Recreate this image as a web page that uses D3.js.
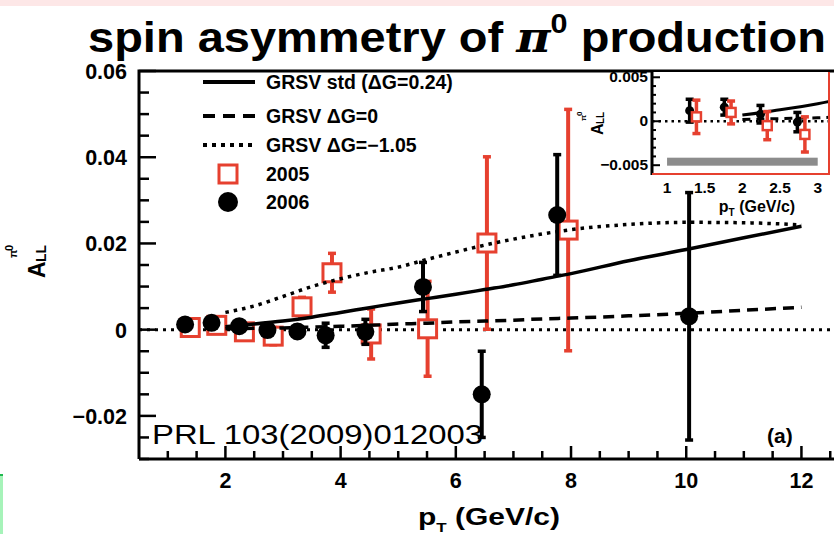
<!DOCTYPE html>
<html>
<head>
<meta charset="utf-8">
<script src="https://cdn.jsdelivr.net/npm/d3@7"></script>
<style>
  html, body { margin: 0; padding: 0; background: #fff; }
  svg { display: block; }
  text { font-family: "Liberation Sans", Arial, sans-serif; }
</style>
</head>
<body>
<svg id="chart" width="834" height="534"></svg>
<script>
// ---- data ----
// 2006 run (filled circles)
const pt2006 = [1.30, 1.76, 2.24, 2.73, 3.25, 3.74, 4.43, 5.43, 6.45, 7.76, 10.05];
const all2006 = [0.0012, 0.0016, 0.0008, -0.0001, -0.0004, -0.0013, -0.0005, 0.0099, -0.0150, 0.0266, 0.0031];
const err2006 = [0.0013, 0.0009, 0.0010, 0.0011, 0.0014, 0.0028, 0.0029, 0.0057, 0.0100, 0.0140, 0.0287];
// 2005 run (open squares)
const pt2005 = [1.39, 1.85, 2.33, 2.83, 3.33, 3.85, 4.53, 5.51, 6.54, 7.95];
const all2005 = [0.0005, 0.0010, -0.0005, -0.0015, 0.0053, 0.0132, -0.0010, 0.0002, 0.0201, 0.0231];
const err2005 = [0.0019, 0.0013, 0.0016, 0.0020, 0.0022, 0.0045, 0.0058, 0.0110, 0.0200, 0.0280];
// GRSV predictions
const ptTheory = [2.0, 2.5, 3, 3.5, 4, 4.5, 5, 5.5, 6, 6.5, 7, 7.5, 8, 9, 10, 11, 12];
const grsvStd  = [0.0007, 0.0013, 0.0020, 0.0029, 0.0040, 0.0051, 0.0062, 0.0072, 0.0082, 0.0093, 0.0104, 0.0117, 0.0130, 0.0160, 0.0186, 0.0213, 0.0240];
const grsvZero = [0.0002, 0.0003, 0.0004, 0.0006, 0.0008, 0.0010, 0.0013, 0.0015, 0.0018, 0.0020, 0.0022, 0.0025, 0.0027, 0.0032, 0.0038, 0.0045, 0.0052];
const grsvNeg  = [0.0040, 0.0055, 0.0077, 0.0100, 0.0118, 0.0133, 0.0145, 0.0163, 0.0180, 0.0196, 0.0210, 0.0222, 0.0232, 0.0244, 0.0249, 0.0248, 0.0243];
// axis ticks
const xTickLabels = [2, 4, 6, 8, 10, 12];
const yTickLabels = [-0.02, 0, 0.02, 0.04, 0.06];
const insetXTicks = [1, 1.5, 2, 2.5, 3];
const insetYTicks = [-0.005, 0, 0.005];
const legendItems = ["GRSV std (\u0394G=0.24)", "GRSV \u0394G=0", "GRSV \u0394G=\u22121.05", "2005", "2006"];
const insetMaxPt = 3;
// scale uncertainty band shown in the inset
const bandRange = [1, 3];
const bandValue = -0.0046;

const RED = "#e6402f";
const svg = d3.select("#chart");

// slide decoration
svg.append("rect").attr("x", 0).attr("y", 0).attr("width", 834).attr("height", 6).attr("fill", "#fde7e7");
svg.append("rect").attr("x", 0).attr("y", 474).attr("width", 3).attr("height", 60).attr("fill", "#a6f3b9");
svg.append("rect").attr("x", 0).attr("y", 474).attr("width", 3).attr("height", 2).attr("fill", "#1fb84f");

// ---- main panel ----
const x = d3.scaleLinear().domain([0.5, 12.6]).range([139, 836]);
const y = d3.scaleLinear().domain([-0.03, 0.06]).range([459, 71]);
const main = svg.append("g");

// ticks (pointing inward)
const yMinor = d3.range(-0.03, 0.0601, 0.005).map(v => +v.toFixed(3));
main.selectAll("line.ytick").data(yMinor).join("line")
  .attr("x1", x(0.5)).attr("x2", d => x(0.5) + (Math.abs(d / 0.02 - Math.round(d / 0.02)) < 1e-6 ? 17 : 10))
  .attr("y1", d => y(d)).attr("y2", d => y(d))
  .attr("stroke", "#000").attr("stroke-width", 2.5);
const xMinor = d3.range(1, 12.51, 0.5);
main.selectAll("line.xtick").data(xMinor).join("line")
  .attr("x1", d => x(d)).attr("x2", d => x(d))
  .attr("y1", y(-0.03)).attr("y2", d => y(-0.03) - (d % 2 === 0 ? 13 : 8))
  .attr("stroke", "#000").attr("stroke-width", 2.5);

main.selectAll("text.ylab").data(yTickLabels).join("text")
  .attr("x", 127).attr("y", d => y(d) + 8)
  .attr("text-anchor", "end").attr("font-size", 21.5).attr("font-weight", "bold")
  .text(d => d === 0 ? "0" : d3.format(".2f")(d).replace("-", "\u2212"));
main.selectAll("text.xlab").data(xTickLabels).join("text")
  .attr("x", d => x(d)).attr("y", 488)
  .attr("text-anchor", "middle").attr("font-size", 21.5).attr("font-weight", "bold")
  .text(d => d);

// x axis title
const xt = main.append("text").attr("x", 418).attr("y", 525)
  .attr("font-size", 23).attr("font-weight", "bold")
  .attr("textLength", 142).attr("lengthAdjust", "spacingAndGlyphs");
xt.append("tspan").text("p");
xt.append("tspan").attr("font-size", 13).attr("dy", 7).text("T");
xt.append("tspan").attr("dy", -7).text(" (GeV/c)");

// y axis title
const yt = main.append("g").attr("transform", "translate(45,278) rotate(-90)");
yt.append("text").attr("x", 0).attr("y", 0).attr("font-size", 23).attr("font-weight", "bold").text("A");
yt.append("text").attr("x", 16).attr("y", 1).attr("font-size", 14).attr("font-weight", "bold").text("LL");
yt.append("text").attr("x", 20).attr("y", -28).attr("font-size", 11).attr("font-weight", "bold").text("\u03c0");
yt.append("text").attr("x", 27).attr("y", -32).attr("font-size", 11).attr("font-weight", "bold").text("0");

// zero line
main.append("line").attr("x1", x(0.5)).attr("x2", 836).attr("y1", y(0)).attr("y2", y(0))
  .attr("stroke", "#000").attr("stroke-width", 3).attr("stroke-dasharray", "3,5");

// error bars helper
function errorBars(g, pts, vals, errs, sx, sy, color, w, cap) {
  const d = pts.map((p, i) => ({ p, v: vals[i], e: errs[i] }));
  g.selectAll(null).data(d).join("line")
    .attr("x1", q => sx(q.p)).attr("x2", q => sx(q.p))
    .attr("y1", q => sy(q.v - q.e)).attr("y2", q => sy(q.v + q.e))
    .attr("stroke", color).attr("stroke-width", w);
  ["lo", "hi"].forEach(k => {
    g.selectAll(null).data(d).join("line")
      .attr("x1", q => sx(q.p) - cap).attr("x2", q => sx(q.p) + cap)
      .attr("y1", q => sy(k === "lo" ? q.v - q.e : q.v + q.e))
      .attr("y2", q => sy(k === "lo" ? q.v - q.e : q.v + q.e))
      .attr("stroke", color).attr("stroke-width", 3.5);
  });
}

const pts = main.append("g");
errorBars(pts, pt2005, all2005, err2005, x, y, RED, 4, 4);
pts.selectAll("rect.s2005").data(pt2005).join("rect")
  .attr("x", (d) => x(d) - 9).attr("y", (d, i) => y(all2005[i]) - 9)
  .attr("width", 18).attr("height", 18)
  .attr("fill", "#fff").attr("stroke", RED).attr("stroke-width", 3);
errorBars(pts, pt2006, all2006, err2006, x, y, "#000", 4, 4);
pts.selectAll("circle.s2006").data(pt2006).join("circle")
  .attr("cx", d => x(d)).attr("cy", (d, i) => y(all2006[i])).attr("r", 9)
  .attr("fill", "#000");

// theory curves
const theory = [
  { vals: grsvStd, dash: null },
  { vals: grsvZero, dash: "11,7" },
  { vals: grsvNeg, dash: "3.5,5" }
];
const curve = (sx, sy) => d3.line().x(d => sx(d[0])).y(d => sy(d[1])).curve(d3.curveMonotoneX);
theory.forEach(t => {
  main.append("path")
    .attr("d", curve(x, y)(ptTheory.map((p, i) => [p, t.vals[i]])))
    .attr("fill", "none").attr("stroke", "#000").attr("stroke-width", 3.5)
    .attr("stroke-dasharray", t.dash);
});

// frame
main.append("path").attr("d", `M${x(0.5)},${y(-0.03)}V${y(0.06)}H836`)
  .attr("fill", "none").attr("stroke", "#000").attr("stroke-width", 3);
main.append("line").attr("x1", x(0.5)).attr("x2", 836).attr("y1", y(-0.03)).attr("y2", y(-0.03))
  .attr("stroke", "#000").attr("stroke-width", 3);

// legend
const lg = main.append("g");
const rowsY = [82, 116, 145, 174, 202];
const sampleDash = [null, "12,8", "4,5"];
sampleDash.forEach((dash, i) => {
  lg.append("line").attr("x1", 203).attr("x2", 255).attr("y1", rowsY[i]).attr("y2", rowsY[i])
    .attr("stroke", "#000").attr("stroke-width", 4).attr("stroke-dasharray", dash);
});
lg.append("rect").attr("x", 219).attr("y", rowsY[3] - 9).attr("width", 18).attr("height", 18)
  .attr("fill", "#fff").attr("stroke", RED).attr("stroke-width", 3);
lg.append("circle").attr("cx", 228).attr("cy", rowsY[4]).attr("r", 10).attr("fill", "#000");
lg.selectAll("text").data(legendItems).join("text")
  .attr("x", 266).attr("y", (d, i) => rowsY[i] + 7)
  .attr("font-size", 19.5).attr("font-weight", "bold").text(d => d);

// labels in the plot
main.append("text").attr("x", 152).attr("y", 444)
  .attr("font-family", "'Open Sans', 'Noto Sans', sans-serif").attr("font-size", 28)
  .attr("textLength", 331).attr("lengthAdjust", "spacingAndGlyphs")
  .text("PRL 103(2009)012003");
main.append("text").attr("x", 767).attr("y", 443).attr("font-size", 21).attr("font-weight", "bold").text("(a)");

// ---- inset: low pT ----
const xi = d3.scaleLinear().domain([0.8, 3.15]).range([652, 829]);
const yi = d3.scaleLinear().domain([-0.006, 0.0056]).range([174, 72]);
const ins = svg.append("g");
ins.append("rect").attr("x", 652).attr("y", 72).attr("width", 177).attr("height", 102).attr("fill", "#fff");

ins.append("rect").attr("x", xi(bandRange[0])).attr("y", yi(bandValue) - 4)
  .attr("width", xi(bandRange[1]) - xi(bandRange[0])).attr("height", 8).attr("fill", "#8c8c8c");

ins.append("line").attr("x1", 652).attr("x2", 829).attr("y1", yi(0)).attr("y2", yi(0))
  .attr("stroke", "#000").attr("stroke-width", 2.5).attr("stroke-dasharray", "2.5,4");

const clipId = "insetClip";
svg.append("clipPath").attr("id", clipId).append("rect")
  .attr("x", 652).attr("y", 72).attr("width", 177).attr("height", 102);
[{ vals: grsvStd, dash: null }, { vals: grsvZero, dash: "8,6" }].forEach(t => {
  ins.append("path").attr("clip-path", `url(#${clipId})`)
    .attr("d", curve(xi, yi)(ptTheory.map((p, i) => [p, t.vals[i]])))
    .attr("fill", "none").attr("stroke", "#000").attr("stroke-width", 3)
    .attr("stroke-dasharray", t.dash);
});

const lowIdx5 = pt2005.map((p, i) => i).filter(i => pt2005[i] < insetMaxPt);
const lowIdx6 = pt2006.map((p, i) => i).filter(i => pt2006[i] < insetMaxPt);
const ip = ins.append("g");
errorBars(ip, lowIdx6.map(i => pt2006[i]), lowIdx6.map(i => all2006[i]), lowIdx6.map(i => err2006[i]), xi, yi, "#000", 3.5, 4);
ip.selectAll("circle.i6").data(lowIdx6).join("circle")
  .attr("cx", i => xi(pt2006[i])).attr("cy", i => yi(all2006[i])).attr("r", 4.5).attr("fill", "#000");
errorBars(ip, lowIdx5.map(i => pt2005[i]), lowIdx5.map(i => all2005[i]), lowIdx5.map(i => err2005[i]), xi, yi, RED, 3.5, 4);
ip.selectAll("rect.i5").data(lowIdx5).join("rect")
  .attr("x", i => xi(pt2005[i]) - 4.5).attr("y", i => yi(all2005[i]) - 4.5)
  .attr("width", 9).attr("height", 9)
  .attr("fill", "#fff").attr("stroke", RED).attr("stroke-width", 2.5);

// inset frame: black left axis, red right/bottom
const iyTicks = d3.range(-0.006, 0.0056, 0.001).map(v => +v.toFixed(3));
ins.selectAll("line.iyt").data(iyTicks).join("line")
  .attr("x1", 652).attr("x2", d => 652 + (Math.abs(d % 0.005) < 1e-9 ? 8 : 4))
  .attr("y1", d => yi(d)).attr("y2", d => yi(d))
  .attr("stroke", "#000").attr("stroke-width", 2);
ins.append("line").attr("x1", 652).attr("x2", 652).attr("y1", 72).attr("y2", 175)
  .attr("stroke", "#000").attr("stroke-width", 3);
ins.append("path").attr("d", "M652,174H829V72").attr("fill", "none").attr("stroke", RED).attr("stroke-width", 2);

ins.selectAll("text.iyl").data(insetYTicks).join("text")
  .attr("x", 648).attr("y", d => yi(d) + 5)
  .attr("text-anchor", "end").attr("font-size", 15.5).attr("font-weight", "bold")
  .text(d => d === 0 ? "0" : d3.format(".3f")(d).replace("-", "\u2212"));
ins.selectAll("text.ixl").data(insetXTicks).join("text")
  .attr("x", d => xi(d)).attr("y", 193)
  .attr("text-anchor", "middle").attr("font-size", 15.5).attr("font-weight", "bold")
  .text(d => d);
const ixt = ins.append("text").attr("x", 757).attr("y", 212).attr("text-anchor", "middle")
  .attr("font-size", 16).attr("font-weight", "bold");
ixt.append("tspan").text("p");
ixt.append("tspan").attr("font-size", 10).attr("dy", 4).text("T");
ixt.append("tspan").attr("dy", -4).text(" (GeV/c)");
const iyt = ins.append("g").attr("transform", "translate(603,135) rotate(-90)");
iyt.append("text").attr("font-size", 16).attr("font-weight", "bold").text("A");
iyt.append("text").attr("x", 11).attr("y", 1).attr("font-size", 10).attr("font-weight", "bold").text("LL");
iyt.append("text").attr("x", 14).attr("y", -17).attr("font-size", 8).attr("font-weight", "bold").text("\u03c0");
iyt.append("text").attr("x", 19).attr("y", -21).attr("font-size", 8).attr("font-weight", "bold").text("0");

// ---- title ----
const title = svg.append("text").attr("x", 88).attr("y", 52)
  .attr("font-family", "'Open Sans', 'Noto Sans', sans-serif").attr("font-size", 43).attr("font-weight", "bold")
  .attr("textLength", 738).attr("lengthAdjust", "spacingAndGlyphs");
title.append("tspan").text("spin asymmetry of ");
title.append("tspan").attr("font-family", "'DejaVu Serif', serif").attr("font-style", "italic").text("\u03c0");
title.append("tspan").attr("font-size", 28).attr("dy", -19).text("0");
title.append("tspan").attr("dy", 19).text(" production");
</script>
</body>
</html>
